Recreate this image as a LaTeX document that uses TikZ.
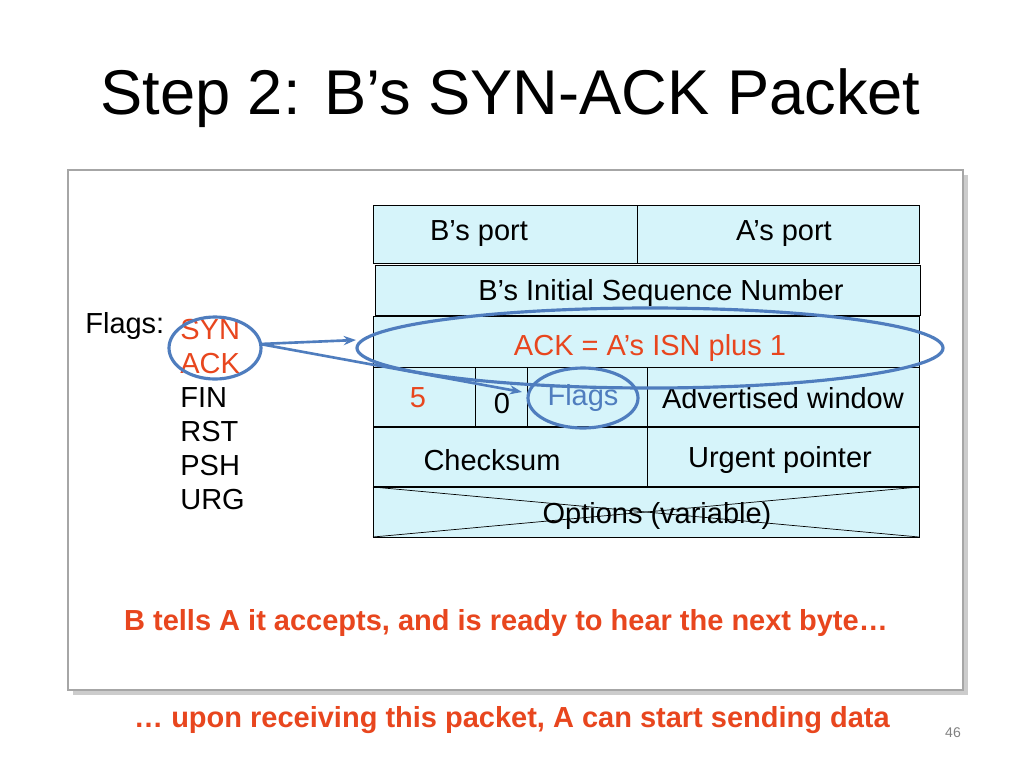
\documentclass[tikz,border=0pt]{standalone}
\usepackage{fontspec}
\setmainfont{Liberation Sans}
\usetikzlibrary{positioning,arrows.meta,shadows}
\definecolor{hot}{HTML}{E8461E}
\definecolor{cellfill}{HTML}{D6F4FA}
\definecolor{ringblue}{HTML}{4F7DBE}
\tikzset{cell/.style={draw,fill=cellfill,minimum height=0pt,inner sep=0pt},
         celltext/.style={font=\fontsize{16.5}{19}\selectfont,anchor=center},
         ring/.style={draw=ringblue,line width=1.8pt},
         link/.style={draw=ringblue,line width=1.5pt,-{Stealth[length=7pt]}}}
\begin{document}
\begin{tikzpicture}[x=0.02cm,y=-0.02cm]
    \useasboundingbox (0,0) rectangle (1024,768);

    % title and frame
    \node [font=\fontsize{36}{41}\selectfont,anchor=west,inner sep=0pt] (title) at (100,98) {Step 2: B’s SYN-ACK Packet};
    \path [draw=gray!70,line width=1pt,fill=white,drop shadow={shadow xshift=3pt,shadow yshift=-3pt,opacity=.4}] (68,170) rectangle (963,690);

    % header rows
    \path [cell] (373,205) rectangle (637,263);
    \path [cell] (637,205) rectangle (919,263);
    \path [cell] (375,265) rectangle (920,315);
    \path [cell] (373,316) rectangle (919,367);
    \path [cell] (373,367) rectangle (475,426);
    \path [cell] (475,367) rectangle (527,426);
    \path [cell] (527,367) rectangle (647,426);
    \path [cell] (647,367) rectangle (919,426);
    \path [cell] (373,427) rectangle (647,486);
    \path [cell] (647,427) rectangle (919,486);
    \path [cell] (373,487) rectangle (919,537);
    \draw (373,537) -- (919,487);
    \draw (373,487) -- (919,537);

    \node [celltext] (bport) at (479,234) {B’s port};
    \node [celltext] (aport) at (784,234) {A’s port};
    \node [celltext] (isn) at (661,293) {B’s Initial Sequence Number};
    \node [celltext,text=hot] (ack) at (650,348) {ACK = A’s ISN plus 1};
    \node [celltext,text=hot] (hlen) at (418,398) {5};
    \node [celltext] (zero) at (502,404) {0};
    \node [celltext,text=ringblue] (flags) at (583,398) {Flags};
    \node [celltext] (window) at (783,398) {Advertised window};
    \node [celltext] (csum) at (492,460) {Checksum};
    \node [celltext] (urg) at (780,460) {Urgent pointer};
    \node [celltext] (opts) at (657,516) {Options (variable)};

    % flag list
    \node [celltext,anchor=west,inner sep=0pt] (flaglbl) at (85,326) {Flags:};
    \foreach \f/\y/\c in {SYN/330/hot,ACK/364/hot,FIN/398/black,RST/432/black,PSH/466/black,URG/500/black}
    {
    \node [celltext,anchor=west,inner sep=0pt,text=\c] (f\f) at (180,\y) {\f};
    }

    % highlights
    \draw [ring] (215,348) ellipse [x radius=46,y radius=31];
    \draw [ring] (ack.center) ellipse [x radius=293,y radius=40];
    \draw [ring] (flags.center) ellipse [x radius=55,y radius=30];
    \coordinate (ackrim) at (260,344);
    \coordinate (ackin) at (356,340);
    \coordinate (flagin) at (522,392);
    \path [link] (ackrim) -- (ackin);
    \path [link] (ackrim) -- (flagin);

    % captions
    \node [font=\bfseries\fontsize{16.5}{19}\selectfont,text=hot] (tell) at (506,623) {B tells A it accepts, and is ready to hear the next byte…};
    \node [font=\bfseries\fontsize{16.5}{19}\selectfont,text=hot] (then) at (512,720) {… upon receiving this packet, A can start sending data};
    \node [font=\fontsize{8}{10}\selectfont,text=gray] (page) at (953,733) {46};
\end{tikzpicture}
\end{document}
